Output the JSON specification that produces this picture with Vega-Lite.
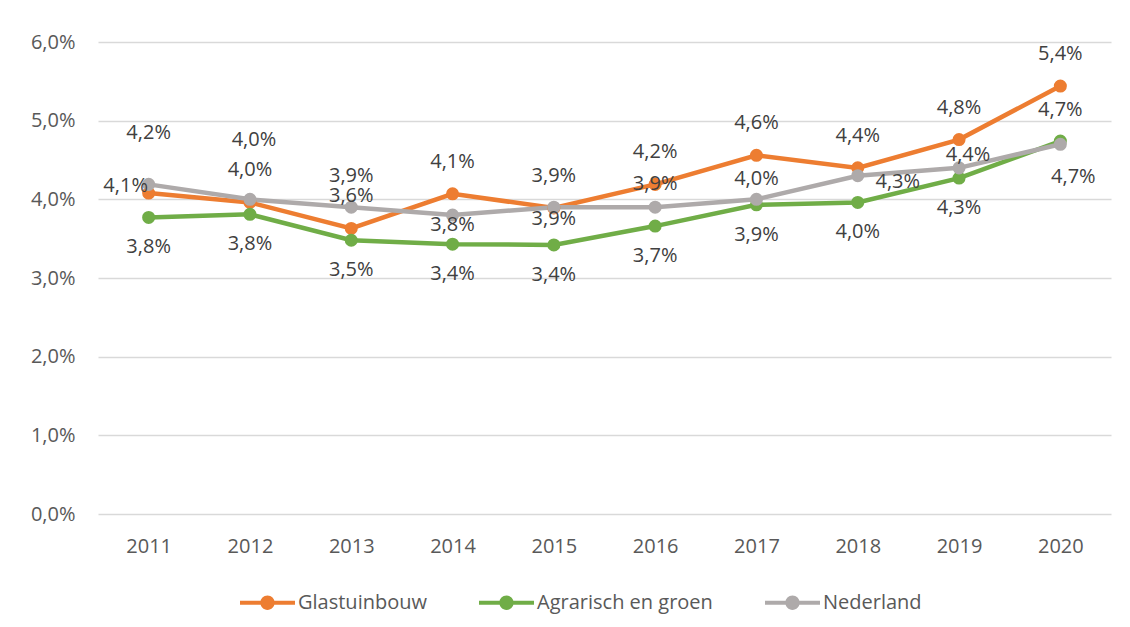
{
  "$schema": "https://vega.github.io/schema/vega-lite/v6.json",
  "autosize": "none",
  "width": 1013,
  "height": 472,
  "padding": {"left": 98, "top": 42, "right": 19, "bottom": 113},
  "background": "white",
  "config": {
    "font": "Open Sans",
    "view": {"stroke": null},
    "axis": {"labelFont": "Open Sans", "labelColor": "#595959", "labelFontSize": 20}
  },
  "data": {
    "values": [
      {"year": "2011", "serie": "Glastuinbouw", "v": 0.0408},
      {"year": "2012", "serie": "Glastuinbouw", "v": 0.0396},
      {"year": "2013", "serie": "Glastuinbouw", "v": 0.0363},
      {"year": "2014", "serie": "Glastuinbouw", "v": 0.0407},
      {"year": "2015", "serie": "Glastuinbouw", "v": 0.0389},
      {"year": "2016", "serie": "Glastuinbouw", "v": 0.0419},
      {"year": "2017", "serie": "Glastuinbouw", "v": 0.0456},
      {"year": "2018", "serie": "Glastuinbouw", "v": 0.0440},
      {"year": "2019", "serie": "Glastuinbouw", "v": 0.0476},
      {"year": "2020", "serie": "Glastuinbouw", "v": 0.0544},
      {"year": "2011", "serie": "Agrarisch en groen", "v": 0.0377},
      {"year": "2012", "serie": "Agrarisch en groen", "v": 0.0381},
      {"year": "2013", "serie": "Agrarisch en groen", "v": 0.0348},
      {"year": "2014", "serie": "Agrarisch en groen", "v": 0.0343},
      {"year": "2015", "serie": "Agrarisch en groen", "v": 0.0342},
      {"year": "2016", "serie": "Agrarisch en groen", "v": 0.0366},
      {"year": "2017", "serie": "Agrarisch en groen", "v": 0.0393},
      {"year": "2018", "serie": "Agrarisch en groen", "v": 0.0396},
      {"year": "2019", "serie": "Agrarisch en groen", "v": 0.0427},
      {"year": "2020", "serie": "Agrarisch en groen", "v": 0.0474},
      {"year": "2011", "serie": "Nederland", "v": 0.0419},
      {"year": "2012", "serie": "Nederland", "v": 0.0400},
      {"year": "2013", "serie": "Nederland", "v": 0.0390},
      {"year": "2014", "serie": "Nederland", "v": 0.0380},
      {"year": "2015", "serie": "Nederland", "v": 0.0390},
      {"year": "2016", "serie": "Nederland", "v": 0.0390},
      {"year": "2017", "serie": "Nederland", "v": 0.0400},
      {"year": "2018", "serie": "Nederland", "v": 0.0430},
      {"year": "2019", "serie": "Nederland", "v": 0.0440},
      {"year": "2020", "serie": "Nederland", "v": 0.0470}
    ]
  },
  "transform": [
    {"calculate": "replace(format(datum.v, '.1%'), '.', ',')", "as": "lbl"}
  ],
  "encoding": {
    "x": {
      "field": "year", "type": "ordinal",
      "scale": {"type": "point", "padding": 0.5},
      "axis": {"title": null, "labelAngle": 0, "ticks": false, "domain": false, "labelPadding": 22, "grid": false}
    },
    "y": {
      "field": "v", "type": "quantitative",
      "scale": {"domain": [0, 0.06], "nice": false},
      "axis": {
        "title": null, "values": [0, 0.01, 0.02, 0.03, 0.04, 0.05, 0.06],
        "labelExpr": "replace(format(datum.value, '.1%'), '.', ',')",
        "ticks": false, "domain": false, "gridColor": "#D9D9D9", "gridWidth": 1.3, "labelPadding": 23
      }
    },
    "color": {
      "field": "serie", "type": "nominal",
      "scale": {"domain": ["Glastuinbouw", "Agrarisch en groen", "Nederland"], "range": ["#ED7D31", "#70AD47", "#AEAAAA"]},
      "legend": {
        "title": null, "orient": "none", "direction": "horizontal", "legendX": 142, "legendY": 533,
        "labelFontSize": 20, "labelColor": "#595959", "labelFont": "Open Sans", "labelLimit": 400,
        "symbolType": "M-1,-0.075 H1 V0.075 H-1 Z M0.26,0 A0.26,0.26 0 1 1 -0.26,0 A0.26,0.26 0 1 1 0.26,0 Z",
        "symbolSize": 3025, "symbolStrokeWidth": 0, "labelOffset": 3, "columnPadding": 52,
        "encode": {"symbols": {"update": {"fill": {"scale": "color", "field": "value"}, "strokeWidth": {"value": 0}, "opacity": {"value": 1}}}}
      }
    }
  },
  "layer": [
    {"mark": {"type": "line", "strokeWidth": 4.5}},
    {"mark": {"type": "circle", "size": 170, "opacity": 1}, "encoding": {"color": {"field": "serie", "type": "nominal", "legend": null}}},
    {
      "transform": [{"filter": "datum.serie == 'Glastuinbouw'"}],
      "mark": {"type": "text", "fontSize": 20, "font": "Open Sans",
        "dx": {"expr": "datum.year == '2011' ? -23 : 0"},
        "dy": {"expr": "datum.year == '2011' ? -7 : -32"}},
      "encoding": {"text": {"field": "lbl"}, "color": {"value": "#404040"}}
    },
    {
      "transform": [{"filter": "datum.serie == 'Agrarisch en groen'"}],
      "mark": {"type": "text", "fontSize": 20, "font": "Open Sans",
        "dy": {"expr": "datum.year == '2020' ? -31 : 30"}},
      "encoding": {"text": {"field": "lbl"}, "color": {"value": "#404040"}}
    },
    {
      "transform": [{"filter": "datum.serie == 'Nederland'"}],
      "mark": {"type": "text", "fontSize": 20, "font": "Open Sans",
        "dx": {"expr": "datum.year == '2018' ? 40 : datum.year == '2019' ? 9 : datum.year == '2020' ? 13 : datum.year == '2012' ? 4 : 0"},
        "dy": {"expr": "datum.year == '2011' ? -51 : datum.year == '2012' ? -59 : datum.year == '2013' ? -31 : datum.year == '2014' ? 10 : datum.year == '2015' ? 12 : datum.year == '2016' ? -23 : datum.year == '2017' ? -20 : datum.year == '2018' ? 6 : datum.year == '2019' ? -13 : 33"}},
      "encoding": {"text": {"field": "lbl"}, "color": {"value": "#404040"}}
    }
  ]
}
